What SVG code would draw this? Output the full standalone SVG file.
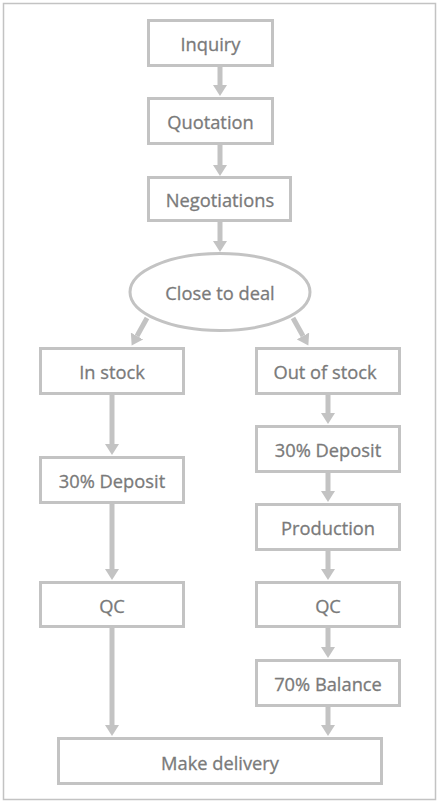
<svg xmlns="http://www.w3.org/2000/svg" width="439" height="803" viewBox="0 0 439 803">
<defs>
<style>
.box{fill:#ffffff;stroke:#c3c3c3;stroke-width:3}
.frame{fill:#ffffff;stroke:#c3c3c3;stroke-width:1.5}
.lbl{font-family:"Open Sans","Noto Sans",sans-serif;font-size:18.3px;fill:#7a7a7a;stroke:#7a7a7a;stroke-width:0.3;text-anchor:middle}
.arr{stroke:#c3c3c3;stroke-width:5;fill:none;marker-end:url(#ah)}
</style>
<marker id="ah" markerUnits="userSpaceOnUse" viewBox="0 0 11 14" markerWidth="11" markerHeight="14" refX="0" refY="7" orient="auto">
<path d="M0,0 L11,7 L0,14 z" fill="#c3c3c3"/>
</marker>
</defs>
<rect class="frame" x="3.5" y="3.5" width="432" height="796"/>
<g id="connectors">
<line class="arr" x1="220" y1="67" x2="220" y2="85"/>
<line class="arr" x1="220" y1="145" x2="220" y2="165"/>
<line class="arr" x1="220" y1="222" x2="220" y2="241"/>
<line class="arr" x1="147" y1="318" x2="137" y2="336"/>
<line class="arr" x1="293" y1="318" x2="303" y2="336"/>
<line class="arr" x1="112" y1="395" x2="112" y2="444"/>
<line class="arr" x1="112" y1="504" x2="112" y2="569"/>
<line class="arr" x1="112" y1="628" x2="112" y2="725"/>
<line class="arr" x1="328" y1="395" x2="328" y2="413"/>
<line class="arr" x1="328" y1="473" x2="328" y2="491"/>
<line class="arr" x1="328" y1="551" x2="328" y2="569"/>
<line class="arr" x1="328" y1="628" x2="328" y2="647"/>
<line class="arr" x1="328" y1="707" x2="328" y2="725"/>
</g>
<g id="inquiry"><rect class="box" x="148.5" y="20.5" width="124" height="45"/><text class="lbl" x="210.5" y="51">Inquiry</text></g>
<g id="quotation"><rect class="box" x="148.5" y="98.5" width="124" height="45"/><text class="lbl" x="210.5" y="129">Quotation</text></g>
<g id="negotiations"><rect class="box" x="148.5" y="177.5" width="142" height="43"/><text class="lbl" x="220" y="207">Negotiations</text></g>
<g id="close"><ellipse class="box" cx="220" cy="292" rx="90" ry="38.5"/><text class="lbl" x="220" y="300">Close to deal</text></g>
<g id="instock"><rect class="box" x="40.5" y="348.5" width="143" height="45"/><text class="lbl" x="112" y="379">In stock</text></g>
<g id="outofstock"><rect class="box" x="256.5" y="348.5" width="143" height="45"/><text class="lbl" x="325" y="379">Out of stock</text></g>
<g id="deposit-left"><rect class="box" x="40.5" y="457.5" width="143" height="45"/><text class="lbl" x="112" y="488">30% Deposit</text></g>
<g id="deposit-right"><rect class="box" x="256.5" y="426.5" width="143" height="45"/><text class="lbl" x="328" y="457">30% Deposit</text></g>
<g id="production"><rect class="box" x="256.5" y="504.5" width="143" height="45"/><text class="lbl" x="328" y="535">Production</text></g>
<g id="qc-left"><rect class="box" x="40.5" y="582.5" width="143" height="44"/><text class="lbl" x="112" y="613">QC</text></g>
<g id="qc-right"><rect class="box" x="256.5" y="582.5" width="143" height="44"/><text class="lbl" x="328" y="613">QC</text></g>
<g id="balance"><rect class="box" x="256.5" y="660.5" width="143" height="45"/><text class="lbl" x="328" y="691">70% Balance</text></g>
<g id="delivery"><rect class="box" x="58.5" y="738.5" width="323" height="45"/><text class="lbl" x="220" y="770">Make delivery</text></g>
</svg>
